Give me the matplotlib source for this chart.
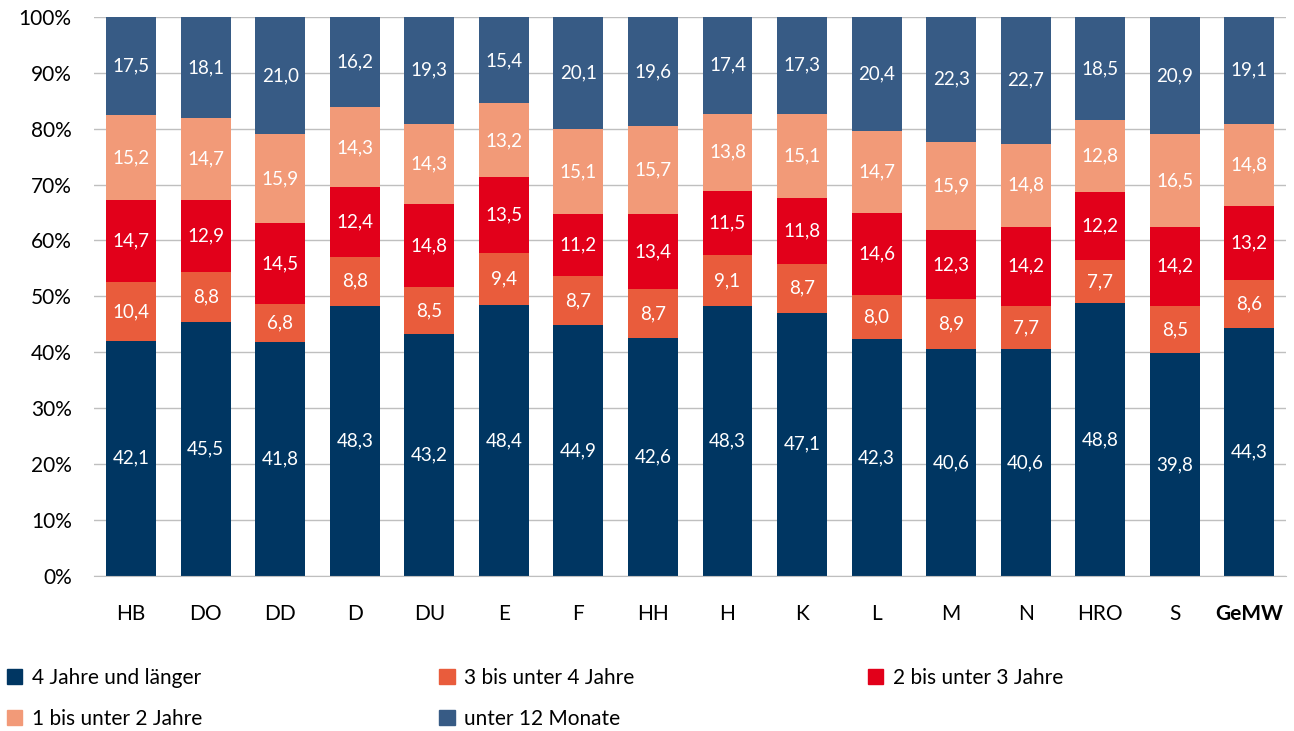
import numpy as np
import matplotlib.pyplot as plt
from matplotlib.patches import Patch
from matplotlib.ticker import FuncFormatter

plt.rcParams['font.family'] = ['Lato', 'DejaVu Sans']

# Data
categories = ["HB", "DO", "DD", "D", "DU", "E", "F", "HH", "H", "K", "L", "M", "N", "HRO", "S", "GeMW"]
vier_jahre = [42.1, 45.5, 41.8, 48.3, 43.2, 48.4, 44.9, 42.6, 48.3, 47.1, 42.3, 40.6, 40.6, 48.8, 39.8, 44.3]
drei_bis_vier = [10.4, 8.8, 6.8, 8.8, 8.5, 9.4, 8.7, 8.7, 9.1, 8.7, 8.0, 8.9, 7.7, 7.7, 8.5, 8.6]
zwei_bis_drei = [14.7, 12.9, 14.5, 12.4, 14.8, 13.5, 11.2, 13.4, 11.5, 11.8, 14.6, 12.3, 14.2, 12.2, 14.2, 13.2]
eins_bis_zwei = [15.2, 14.7, 15.9, 14.3, 14.3, 13.2, 15.1, 15.7, 13.8, 15.1, 14.7, 15.9, 14.8, 12.8, 16.5, 14.8]
unter_12 = [17.5, 18.1, 21.0, 16.2, 19.3, 15.4, 20.1, 19.6, 17.4, 17.3, 20.4, 22.3, 22.7, 18.5, 20.9, 19.1]

series = [
    ("4 Jahre und länger", vier_jahre, "#003662"),
    ("3 bis unter 4 Jahre", drei_bis_vier, "#E95C3C"),
    ("2 bis unter 3 Jahre", zwei_bis_drei, "#E2001A"),
    ("1 bis unter 2 Jahre", eins_bis_zwei, "#F29A78"),
    ("unter 12 Monate", unter_12, "#375B85"),
]

fig = plt.figure(figsize=(12.94, 7.31), dpi=100)
ax = fig.add_axes([0.0726, 0.212, 0.9216, 0.765])

x = np.arange(len(categories))
bottom = np.zeros(len(categories))
for name, vals, color in series:
    vals = np.array(vals)
    ax.bar(x, vals, 0.67, bottom=bottom, color=color, label=name, zorder=2)
    for xi, b, v in zip(x, bottom, vals):
        ax.text(xi, b + v / 2, f"{v:.1f}".replace(".", ","), ha="center", va="center",
                color="white", fontsize=13.5, zorder=3)
    bottom += vals

ax.set_xlim(-0.5, len(categories) - 0.5)
ax.set_ylim(0, 100)
ax.set_yticks(np.arange(0, 101, 10))
ax.yaxis.set_major_formatter(FuncFormatter(lambda v, p: f"{v:.0f}%"))
ax.grid(axis="y", color="#BFBFBF", linewidth=1, zorder=0)
ax.set_xticks(x)
ax.set_xticklabels(categories)
ax.get_xticklabels()[-1].set_fontweight("bold")
ax.tick_params(axis="both", length=0, labelsize=15)
ax.tick_params(axis="x", pad=20)
ax.tick_params(axis="y", pad=16)
for s in ["left", "right", "top"]:
    ax.spines[s].set_visible(False)
ax.spines["bottom"].set_color("#BFBFBF")

# Legend: three columns placed like the original
handles = [Patch(color=c, label=n) for n, _, c in series]
columns = [([0, 3], -0.0093), ([1, 4], 0.325), ([2], 0.656)]
for idx, x0 in columns:
    leg = fig.legend([handles[i] for i in idx], [handles[i].get_label() for i in idx],
                     loc="upper left", bbox_to_anchor=(x0, 0.112),
                     frameon=False, fontsize=15, handlelength=0.75, handleheight=0.75,
                     handletextpad=0.45, labelspacing=1.0)

fig.savefig("out.png", dpi=100)
